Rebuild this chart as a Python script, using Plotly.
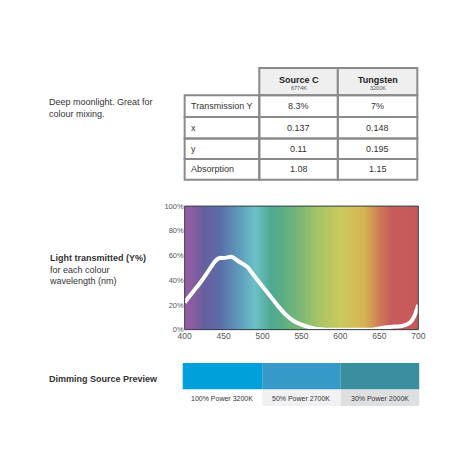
import numpy as np
import plotly.graph_objs as go

W = H = 458

# transmission curve
wavelength = [400, 410, 420, 430, 440, 445, 450, 455, 460, 470, 480, 490, 500, 510, 520, 530,
              540, 550, 560, 570, 580, 600, 620, 640, 650, 660, 670, 680, 690, 695, 700]
transmission = [22, 30, 38, 47, 56, 58, 58, 58.5, 59, 55, 51, 43, 35, 27, 19, 12,
                7, 4, 2, 0.5, 0, 0, 0, 0, 1, 2, 2.5, 3, 6, 11, 20]

row_labels = ["Transmission Y", "x", "y", "Absorption"]
col_names = ["Source C", "Tungsten"]
col_temps = ["6774K", "3200K"]
source_c = ["8.3%", "0.137", "0.11", "1.08"]
tungsten = ["7%", "0.148", "0.195", "1.15"]

preview_labels = ["100% Power 3200K", "50% Power 2700K", "30% Power 2000K"]
preview_colors = ["#00a0dc", "#3699c8", "#3a8e9e"]
preview_label_bg = ["#ffffff", "#f1f1f3", "#dedfe1"]

# spectrum gradient stops
spec_wl = [400, 425, 445, 470, 490, 510, 540, 570, 600, 630, 650, 665, 700]
spec_col = ["#9c5aa6", "#66609f", "#5a6ea8", "#5f9cbc", "#6cc2c8", "#4ea892", "#6eb47a",
            "#a4c466", "#ccca5e", "#d6b454", "#cf7a58", "#c85c5c", "#c65a5a"]


def py(p):
    return 1 - p / H


def px(p):
    return p / W


fig = go.Figure()

bg_x = np.arange(400, 701, 1)
cs = [[(w - 400) / 300, c] for w, c in zip(spec_wl, spec_col)]
fig.add_trace(go.Heatmap(x=bg_x, y=[0, 100], z=[bg_x, bg_x], colorscale=cs,
                         showscale=False, hoverinfo="skip", zsmooth="best"))
fig.add_trace(go.Scatter(x=wavelength, y=transmission, mode="lines",
                         line=dict(color="white", width=4, shape="spline"),
                         showlegend=False))

fig.update_layout(
    width=W, height=H, margin=dict(l=0, r=0, t=0, b=0),
    paper_bgcolor="white", plot_bgcolor="white",
    font=dict(family="Liberation Sans, Arial", size=9, color="#333"),
    xaxis=dict(domain=[px(175), px(416)], range=[400, 700], tickvals=[400, 450, 500, 550, 600, 650, 700],
               showgrid=True, gridcolor="#2e3a42", gridwidth=1, zeroline=False,
               tickfont=dict(size=8.5, color="#555"), ticks="", layer="above traces"),
    yaxis=dict(domain=[py(324), py(198)], range=[0, 100], tickvals=[0, 20, 40, 60, 80, 100],
               ticktext=["0%", "20%", "40%", "60%", "80%", "100%"], showgrid=True,
               gridcolor="#2e3a42", gridwidth=1, zeroline=False,
               tickfont=dict(size=7.5, color="#555"), ticks="", layer="above traces"),
)

shapes = []
ann = []
# plot border
shapes.append(dict(type="rect", xref="paper", yref="paper", x0=px(175), x1=px(416),
                   y0=py(324), y1=py(198), line=dict(color="#2e3a42", width=1)))

# table
cols = [175, 252, 333, 415]
rows = [57, 85, 107, 129, 150, 171]
border = dict(color="#8a8a8a", width=2)
for j in range(2):
    shapes.append(dict(type="rect", xref="paper", yref="paper", x0=px(cols[j + 1]), x1=px(cols[j + 2]),
                       y0=py(rows[1]), y1=py(rows[0]), fillcolor="#efefef", line=border))
    xm = px((cols[j + 1] + cols[j + 2]) / 2)
    ann.append(dict(x=xm, y=py(69), text="<b>" + col_names[j] + "</b>", font=dict(size=9, color="#222")))
    ann.append(dict(x=xm, y=py(78), text=col_temps[j], font=dict(size=5.5, color="#555")))
for i, lab in enumerate(row_labels):
    for j in range(3):
        shapes.append(dict(type="rect", xref="paper", yref="paper", x0=px(cols[j]), x1=px(cols[j + 1]),
                           y0=py(rows[i + 2]), y1=py(rows[i + 1]), line=border))
    yc = py((rows[i + 1] + rows[i + 2]) / 2)
    ann.append(dict(x=px(180), y=yc, text=lab, xanchor="left", font=dict(size=9, color="#333")))
    ann.append(dict(x=px((cols[1] + cols[2]) / 2), y=yc, text=source_c[i], font=dict(size=9, color="#333")))
    ann.append(dict(x=px((cols[2] + cols[3]) / 2), y=yc, text=tungsten[i], font=dict(size=9, color="#333")))

# preview bar
pcols = [173, 255, 336, 417]
for k in range(3):
    shapes.append(dict(type="rect", xref="paper", yref="paper", x0=px(pcols[k]), x1=px(pcols[k + 1]),
                       y0=py(385), y1=py(358), fillcolor=preview_colors[k], line=dict(width=0)))
    shapes.append(dict(type="rect", xref="paper", yref="paper", x0=px(pcols[k]), x1=px(pcols[k + 1]),
                       y0=py(402), y1=py(385), fillcolor=preview_label_bg[k], line=dict(width=0)))
    ann.append(dict(x=px((pcols[k] + pcols[k + 1]) / 2), y=py(394), text=preview_labels[k],
                    font=dict(size=7, color="#333")))

# left texts
ann.append(dict(x=px(33), y=py(98), xanchor="left", align="left",
                text="Deep moonlight. Great for<br>colour mixing.", font=dict(size=9, color="#333")))
ann.append(dict(x=px(33), y=py(263), xanchor="left", align="left",
                text="<b>Light transmitted (Y%)</b><br>for each colour<br>wavelength (nm)",
                font=dict(size=9, color="#333")))
ann.append(dict(x=px(33), y=py(374), xanchor="left", text="<b>Dimming Source Preview</b>",
                font=dict(size=9, color="#333")))

for a in ann:
    a.setdefault("xanchor", "center")
    a.update(xref="paper", yref="paper", showarrow=False, yanchor="middle")
fig.update_layout(shapes=shapes, annotations=ann)

fig.write_html("out.html")
